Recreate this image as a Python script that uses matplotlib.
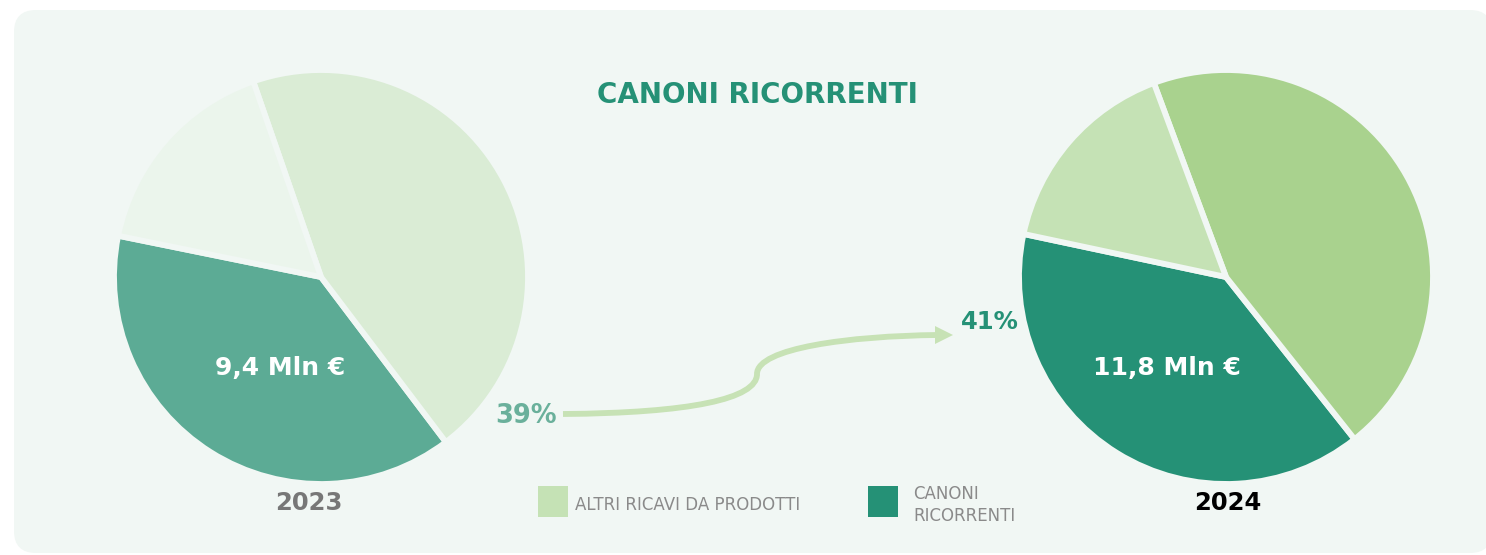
import numpy as np
import matplotlib
matplotlib.use("Agg")
import matplotlib.pyplot as plt
from matplotlib.patches import FancyBboxPatch, Polygon, Rectangle
from matplotlib.path import Path
from matplotlib.patches import PathPatch

# data
slices = ["CANONI RICORRENTI", "ALTRI RICAVI DA PRODOTTI", "ALTRO"]
share_2023 = [38.5, 45.0, 16.5]
share_2024 = [39.0, 45.0, 16.0]
value_labels = ["9,4 Mln €", "11,8 Mln €"]
pct_labels = ["39%", "41%"]
years = ["2023", "2024"]
legend_labels = ["ALTRI RICAVI DA PRODOTTI", "CANONI\nRICORRENTI"]

BG = "#f1f7f4"
DARK = "#259176"
colors_2023 = ["#5cab95", "#daecd5", "#ebf5ec"]
colors_2024 = ["#259176", "#a9d28e", "#c5e2b5"]
ARROW = "#c7e2b5"

W, H = 1486, 555
fig = plt.figure(figsize=(W / 100, H / 100), dpi=100)
fig.patch.set_facecolor("white")
ax = fig.add_axes([0, 0, 1, 1])


def Y(y):
    # image y (down) -> data y (up)
    return H - y


# rounded panel
ax.add_patch(FancyBboxPatch((14, Y(553)), 1478, 543,
                            boxstyle="round,pad=0,rounding_size=22",
                            facecolor=BG, edgecolor="none", zorder=0))

wp = dict(edgecolor=BG, linewidth=4.2)
ax.pie(share_2023, colors=colors_2023, startangle=168.5, counterclock=True,
       center=(321, Y(277)), radius=207, wedgeprops=wp, frame=True)
ax.pie(share_2024, colors=colors_2024, startangle=168, counterclock=True,
       center=(1226, Y(277)), radius=207, wedgeprops=wp, frame=True)

bold = dict(family="DejaVu Sans", fontweight="bold")
ax.text(757, Y(95), "CANONI RICORRENTI", color=DARK, fontsize=20,
        ha="center", va="center", **bold)

ax.text(280, Y(368), value_labels[0], color="white", fontsize=18,
        ha="center", va="center", **bold)
ax.text(1167, Y(368), value_labels[1], color="white", fontsize=18,
        ha="center", va="center", **bold)

ax.text(557, Y(416), pct_labels[0], color="#6ab09b", fontsize=18.5,
        ha="right", va="center", **bold)
ax.text(1019, Y(322), pct_labels[1], color=DARK, fontsize=17.5,
        ha="right", va="center", **bold)

ax.text(309, Y(503), years[0], color="#777777", fontsize=17.5,
        ha="center", va="center", **bold)
ax.text(1228, Y(503), years[1], color="black", fontsize=17.5,
        ha="center", va="center", **bold)

# curved arrow 39% -> 41%
verts = [(563, 414), (690, 413), (757, 399), (757, 374),
         (757, 348), (850, 336), (937, 335)]
verts = [(x, Y(y)) for x, y in verts]
codes = [Path.MOVETO, Path.CURVE4, Path.CURVE4, Path.CURVE4,
         Path.CURVE4, Path.CURVE4, Path.CURVE4]
ax.add_patch(PathPatch(Path(verts, codes), facecolor="none", edgecolor=ARROW,
                       linewidth=4.2, capstyle="butt", zorder=3))
ax.add_patch(Polygon([(935, Y(326)), (935, Y(344)), (953, Y(335))],
                     closed=True, facecolor=ARROW, edgecolor="none", zorder=3))

# legend
legend_colors = ["#c5e2b5", DARK]
box_x = [538, 868]
text_x = [575, 913]
for bx, tx, lab, c in zip(box_x, text_x, legend_labels, legend_colors):
    ax.add_patch(Rectangle((bx, Y(517)), 30, 31, facecolor=c, edgecolor="none"))
    ax.text(tx, Y(505), lab, color="#8a8a8a", fontsize=12, family="DejaVu Sans",
            ha="left", va="center", linespacing=1.25)

ax.set_xlim(0, W)
ax.set_ylim(0, H)
ax.set_aspect("equal")
ax.axis("off")

fig.savefig("out.png", dpi=100, facecolor="white")
